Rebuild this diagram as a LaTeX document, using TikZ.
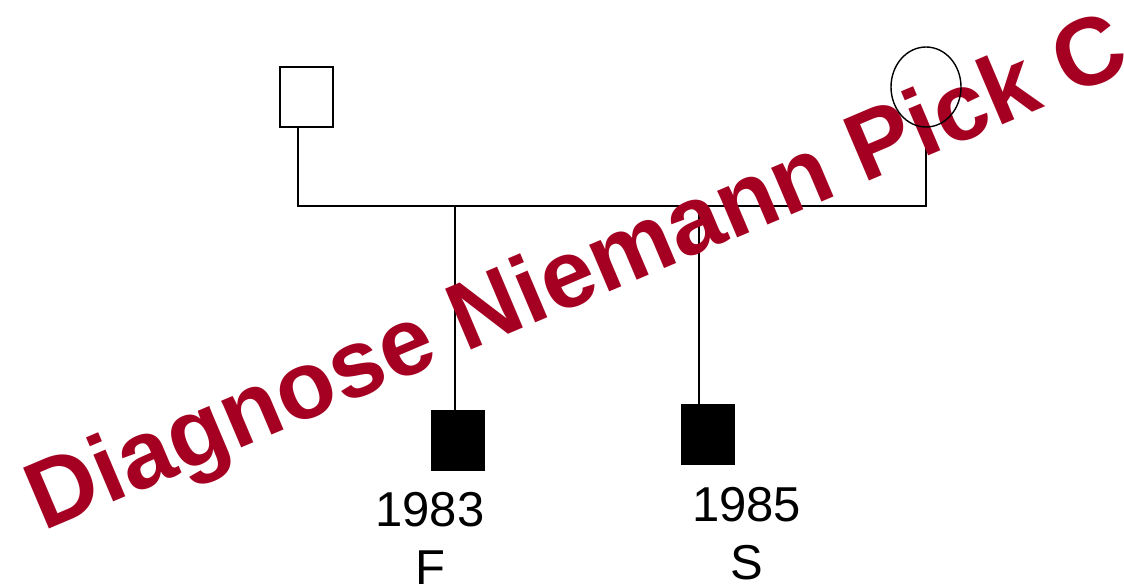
\documentclass[tikz,border=0pt]{standalone}
\usepackage{fontspec}
\setmainfont{Liberation Sans}
\usetikzlibrary{shapes.geometric}
\definecolor{stamp}{RGB}{165,0,33}
\pgfdeclarelayer{front}
\pgfsetlayers{main,front}
\begin{document}
\begin{tikzpicture}[x=1pt,y=-1pt,
  person/.style={draw=black,line width=1.8pt,rectangle,inner sep=0pt,minimum width=53pt,minimum height=60pt},
  affected/.style={person,fill=black},
  female/.style={draw=black,line width=1.4pt,ellipse,inner sep=0pt,minimum width=70pt,minimum height=80pt},
  link/.style={draw=black,line width=1.6pt},
  year/.style={font=\fontsize{49}{58}\selectfont,align=center,inner sep=0pt,anchor=north},
  stamptext/.style={font=\bfseries\fontsize{96}{96}\selectfont,text=stamp,inner sep=0pt,anchor=base west,rotate=23}]
\useasboundingbox (0,0) rectangle (1124,587);
\fill[white] (0,0) rectangle (1124,587);

% parents (the mother's outline sits above the stamp)
\node[person] (father) at (306.5,97) {};
\begin{pgfonlayer}{front}
\node[female] (mother) at (926,87) {};
\end{pgfonlayer}

% children
\node[affected] (son1) at (458,440.5) {};
\node[affected] (son2) at (708,434.5) {};

% sibship bar and drop points
\coordinate (fl) at (298,206);
\coordinate (mr) at (926,206);
\coordinate (d1) at (455,206);
\coordinate (d2) at (699,206);

\draw[link] (father.south -| fl) -- (fl) -- (mr) -- (mother.south);
\draw[link] (d1) -- ([yshift=-4pt]d1 |- son1.north);
\draw[link] (d2) -- (d2 |- son2.north);

% birth years and initials
\node[year] (lab1) at (430,492) {1983\\F};
\node[year] (lab2) at (746.5,487) {1985\\S};

% diagnosis stamp
\node[stamptext] (stamp) at (43.5,532) {Diagnose Niemann Pick C};
\end{tikzpicture}
\end{document}
